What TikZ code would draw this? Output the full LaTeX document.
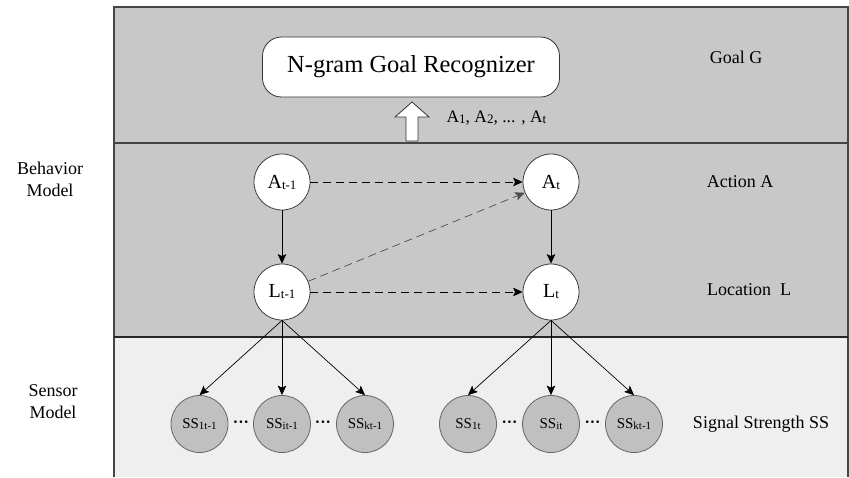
\documentclass[tikz,border=0pt]{standalone}
\usepackage{fontspec}
\setmainfont{Liberation Serif}
\usetikzlibrary{arrows.meta}
\definecolor{bandgray}{HTML}{C8C8C8}
\definecolor{sensorbg}{HTML}{EFEFEF}
\definecolor{ssfill}{HTML}{C0C0C0}
\definecolor{framecol}{HTML}{454545}
% small index set on the baseline after a variable letter
\newcommand\vidx[1]{{\fontsize{13}{13}\selectfont\raisebox{-1pt}{#1}}}
\newcommand\ssidx[1]{{\fontsize{11}{11}\selectfont\raisebox{-1pt}{#1}}}
\begin{document}
\begin{tikzpicture}[x=1pt,y=-1pt,
  varnode/.style={circle,draw=black!75,fill=white,line width=0.8pt,minimum size=56pt,inner sep=0pt,font=\fontsize{20}{22}\selectfont},
  ssnode/.style={circle,draw=black!60,fill=ssfill,line width=0.8pt,minimum size=57pt,inner sep=0pt,font=\fontsize{15}{16}\selectfont},
  solidarrow/.style={-{Stealth[length=9.5pt,width=8.5pt,inset=2pt]},line width=0.7pt},
  dasharrow/.style={solidarrow,dash pattern=on 8pt off 5pt},
  lbl/.style={font=\fontsize{18}{22}\selectfont,align=center},
  dotsnode/.style={font=\bfseries\fontsize{16}{16}\selectfont,inner sep=0pt},
]
\useasboundingbox (0,0) rectangle (849,477);
% background bands
\fill[bandgray] (114,7) rectangle (848,337);
\fill[sensorbg] (114,337) rectangle (848,477);
\draw[framecol,line width=1.3pt] (114,477) -- (114,7) -- (848,7) -- (848,477);
\draw[framecol,line width=1.1pt] (114,143) -- (848,143);
\draw[black!85,line width=1.1pt] (114,337) -- (848,337);

% goal layer
\node[draw=black!80,fill=white,line width=0.8pt,rounded corners=19pt,minimum width=297pt,minimum height=60pt,
      font=\fontsize{24.5}{26}\selectfont] (goal) at (411,67) {N-gram Goal Recognizer};
\draw[fill=white,line width=0.8pt,draw=black!80]
  (406,141) -- (406,117) -- (395,117) -- (412,102) -- (429,117) -- (418,117) -- (418,141) -- cycle;
\node[anchor=west,font=\fontsize{17.5}{20}\selectfont] (seq) at (443,118)
  {A\vidx{1}, A\vidx{2}, ... , A\vidx{t}};

% behavior layer
\node[varnode] (A1) at (282,182) {A\vidx{t-1}};
\node[varnode] (A2) at (551,182) {A\vidx{t}};
\node[varnode] (L1) at (282,292) {L\vidx{t-1}};
\node[varnode] (L2) at (551,292) {L\vidx{t}};

\draw[solidarrow] (A1) -- (L1);
\draw[solidarrow] (A2) -- (L2);
\draw[dasharrow] (A1) -- (A2);
\draw[dasharrow] (L1) -- (L2);
\draw[dasharrow,black!70] (L1) -- (A2);

% sensor layer
\node[ssnode] (S11) at (199.5,424) {SS\ssidx{1t-1}};
\node[ssnode] (S12) at (282,424) {SS\ssidx{it-1}};
\node[ssnode] (S13) at (365,424) {SS\ssidx{kt-1}};
\node[ssnode] (S21) at (468,424) {SS\ssidx{1t}};
\node[ssnode] (S22) at (551,424) {SS\ssidx{it}};
\node[ssnode] (S23) at (634,424) {SS\ssidx{kt-1}};
\node[dotsnode] (d1) at (241,424) {···};
\node[dotsnode] (d2) at (323,424) {···};
\node[dotsnode] (d3) at (509.5,424) {···};
\node[dotsnode] (d4) at (592.5,424) {···};

\foreach \s in {S11,S12,S13} \draw[solidarrow] (L1.south) -- (\s.north);
\foreach \s in {S21,S22,S23} \draw[solidarrow] (L2.south) -- (\s.north);

% layer captions
\node[lbl] (gG) at (736,57) {Goal G};
\node[lbl] (aA) at (740,182) {Action A};
\node[lbl] (lL) at (749,290) {Location~~L};
\node[lbl] (sS) at (761,424) {Signal Strength SS};
\node[lbl] (bm) at (50,179) {Behavior\\Model};
\node[lbl] (sm) at (53,402) {Sensor\\Model};
\end{tikzpicture}
\end{document}
